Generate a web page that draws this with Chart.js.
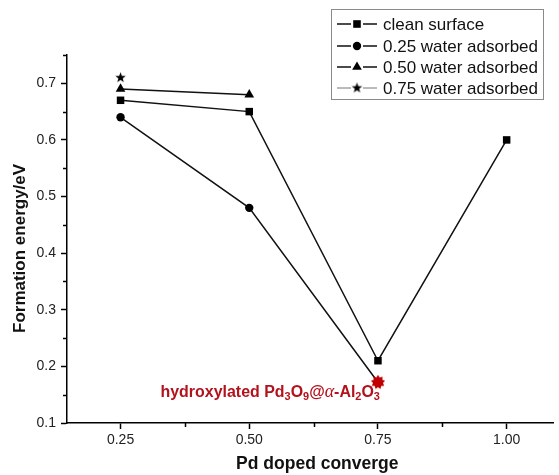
<!DOCTYPE html>
<html><head><meta charset="utf-8">
<script src="https://cdn.jsdelivr.net/npm/chart.js@4/dist/chart.umd.min.js"></script>
<style>html,body{margin:0;padding:0;background:#fff}#wrap{width:559px;height:475px;position:relative}</style>
</head><body><div id="wrap"><canvas id="c"></canvas></div>
<script>
// ---- data ----
const coverage = [0.25, 0.50, 0.75, 1.00];
const cleanSurface = [0.67, 0.65, 0.21, 0.60];
const water025 = [0.64, 0.48, 0.172, null];
const water050 = [0.69, 0.68, null, null];
const water075 = [0.71, null, null, null];
const seriesLabels = ['clean surface', '0.25 water adsorbed', '0.50 water adsorbed', '0.75 water adsorbed'];
const xTickValues = [0.25, 0.50, 0.75, 1.00];
const xMinorTicks = [0.375, 0.625, 0.875];
const yTickValues = [0.1, 0.2, 0.3, 0.4, 0.5, 0.6, 0.7];
const yMinorTicks = [0.15, 0.25, 0.35, 0.45, 0.55, 0.65, 0.75];
const xTitle = '\u00A0\u00A0\u00A0Pd doped converge';
const yTitle = 'Formation energy/eV\u00A0\u00A0\u00A0\u00A0';
// annotation: [text, kind] kind: n=normal, s=subscript, a=alpha italic
const annotationParts = [['hydroxylated Pd','n'],['3','s'],['O','n'],['9','s'],['@','n'],['\u03B1','a'],['-Al','n'],['2','s'],['O','n'],['3','s']];

function makeStar(points, outer, inner, color, size) {
  const c = document.createElement('canvas');
  c.width = c.height = size;
  const g = c.getContext('2d');
  g.fillStyle = color;
  g.beginPath();
  for (let i = 0; i < points * 2; i++) {
    const r = i % 2 ? inner : outer;
    const a = -Math.PI / 2 + i * Math.PI / points;
    g.lineTo(size / 2 + r * Math.cos(a), size / 2 + r * Math.sin(a));
  }
  g.closePath();
  g.fill();
  return c;
}
const blackStar = makeStar(5, 5.5, 2.3, '#000', 13);
const redBurst = makeStar(9, 7.2, 5, '#c00000', 16);

const toPts = arr => coverage.map((x, i) => ({x: x, y: arr[i]}));

const styles = [
  {pointStyle: 'rect', radius: 5.3},
  {pointStyle: ['circle', 'circle', redBurst, 'circle'], radius: 4.2},
  {pointStyle: 'triangle', radius: 5.6},
  {pointStyle: blackStar, radius: 6}
];
const seriesData = [cleanSurface, water025, water050, water075];

const datasets = seriesData.map((arr, i) => ({
  label: seriesLabels[i],
  data: toPts(arr),
  borderColor: '#111',
  backgroundColor: '#000',
  borderWidth: 1.5,
  pointStyle: styles[i].pointStyle,
  pointRadius: styles[i].radius,
  pointBorderWidth: 0,
  pointBackgroundColor: '#000',
  spanGaps: false,
  tension: 0
}));

const extrasPlugin = {
  id: 'extras',
  afterDraw(chart) {
    const ctx = chart.ctx;
    const xs = chart.scales.x, ys = chart.scales.y;
    const area = chart.chartArea;
    ctx.save();
    // minor ticks
    ctx.strokeStyle = '#000';
    ctx.lineWidth = 1.5;
    ctx.beginPath();
    xMinorTicks.forEach(v => {
      const px = Math.round(xs.getPixelForValue(v)) + 0.5;
      ctx.moveTo(px, area.bottom);
      ctx.lineTo(px, area.bottom + 4);
    });
    yMinorTicks.forEach(v => {
      const py = Math.round(ys.getPixelForValue(v)) + 0.5;
      ctx.moveTo(area.left, py);
      ctx.lineTo(area.left - 4, py);
    });
    ctx.stroke();

    // legend box
    const bx = 331.5, by = 9.5, bw = 212, bh = 90;
    ctx.fillStyle = '#fff';
    ctx.fillRect(bx, by, bw, bh);
    ctx.strokeStyle = '#8a8a8a';
    ctx.lineWidth = 1;
    ctx.strokeRect(bx, by, bw, bh);
    const rowY = [24, 46, 67, 88];
    ctx.font = '17px "Liberation Sans", Arial, sans-serif';
    ctx.textBaseline = 'middle';
    ctx.textAlign = 'left';
    chart.data.datasets.forEach((ds, i) => {
      const y = rowY[i];
      ctx.strokeStyle = i === 3 ? '#777' : '#111';
      ctx.lineWidth = i === 3 ? 1 : 1.5;
      ctx.beginPath();
      ctx.moveTo(337, y); ctx.lineTo(351, y);
      ctx.moveTo(363, y); ctx.lineTo(377, y);
      ctx.stroke();
      const cx = 357;
      ctx.fillStyle = '#000';
      ctx.beginPath();
      if (i === 0) { ctx.rect(cx - 3.8, y - 3.8, 7.6, 7.6); ctx.fill(); }
      else if (i === 1) { ctx.arc(cx, y, 4.2, 0, Math.PI * 2); ctx.fill(); }
      else if (i === 2) {
        const r = 5.6;
        ctx.moveTo(cx, y - r);
        ctx.lineTo(cx + r * Math.sin(2 * Math.PI / 3), y - r * Math.cos(2 * Math.PI / 3));
        ctx.lineTo(cx + r * Math.sin(4 * Math.PI / 3), y - r * Math.cos(4 * Math.PI / 3));
        ctx.closePath(); ctx.fill();
      } else { ctx.drawImage(blackStar, cx - blackStar.width / 2, y - blackStar.height / 2); }
      ctx.fillStyle = '#111';
      ctx.fillText(ds.label, 383, y + 1);
    });

    // annotation
    const meta = chart.getDatasetMeta(1);
    const pt = meta.data[2];
    const baseY = pt.y + 14.5;
    const endX = pt.x + 2;
    const red = '#b3111c';
    const fN = 'bold 16px "Liberation Sans", Arial, sans-serif';
    const fS = 'bold 11px "Liberation Sans", Arial, sans-serif';
    const fA = 'italic 18px "Liberation Serif", "Times New Roman", serif';
    const fontOf = k => k === 's' ? fS : (k === 'a' ? fA : fN);
    let total = 0;
    annotationParts.forEach(p => { ctx.font = fontOf(p[1]); total += ctx.measureText(p[0]).width; });
    const startX = 160.5;
    const sx = (endX - startX) / total;
    ctx.translate(startX, baseY);
    ctx.scale(sx, 1);
    ctx.fillStyle = red;
    ctx.textBaseline = 'alphabetic';
    let cur = 0;
    annotationParts.forEach(p => {
      ctx.font = fontOf(p[1]);
      ctx.fillText(p[0], cur, p[1] === 's' ? 3.5 : 0);
      cur += ctx.measureText(p[0]).width;
    });
    ctx.restore();
  }
};

new Chart(document.getElementById('c'), {
  type: 'line',
  data: {datasets: datasets},
  options: {
    responsive: true,
    maintainAspectRatio: false,
    animation: false,
    layout: {padding: {top: 55, right: 0, left: 0, bottom: 0}},
    plugins: {legend: {display: false}, tooltip: {enabled: false}},
    scales: {
      x: {
        type: 'linear',
        min: 0.146, max: 1.09,
        afterBuildTicks: s => { s.ticks = xTickValues.map(v => ({value: v})); },
        afterFit: s => { s.height = 52; },
        ticks: {
          callback: v => Number(v).toFixed(2),
          font: {family: '"Liberation Sans", Arial, sans-serif', size: 14},
          color: '#222', padding: 3, maxRotation: 0, autoSkip: false
        },
        grid: {drawOnChartArea: false, drawTicks: true, tickLength: 6, tickColor: '#000', tickWidth: 1.5},
        border: {display: true, color: '#000', width: 1.5},
        title: {display: true, text: xTitle, color: '#111',
          font: {family: '"Liberation Sans", Arial, sans-serif', size: 17.5, weight: 'bold'},
          padding: {top: -3, bottom: 0}}
      },
      y: {
        type: 'linear',
        min: 0.1, max: 0.75,
        afterBuildTicks: s => { s.ticks = yTickValues.map(v => ({value: v})); },
        afterFit: s => { s.width = 67; },
        ticks: {
          callback: v => Number(v).toFixed(1),
          font: {family: '"Liberation Sans", Arial, sans-serif', size: 14},
          color: '#222', padding: 5, autoSkip: false
        },
        grid: {drawOnChartArea: false, drawTicks: true, tickLength: 6, tickColor: '#000', tickWidth: 1.5},
        border: {display: true, color: '#000', width: 1.5},
        title: {display: true, text: yTitle, color: '#111',
          font: {family: '"Liberation Sans", Arial, sans-serif', size: 17, weight: 'bold'},
          padding: {top: 10, bottom: 0}}
      }
    }
  },
  plugins: [extrasPlugin]
});
</script></body></html>
